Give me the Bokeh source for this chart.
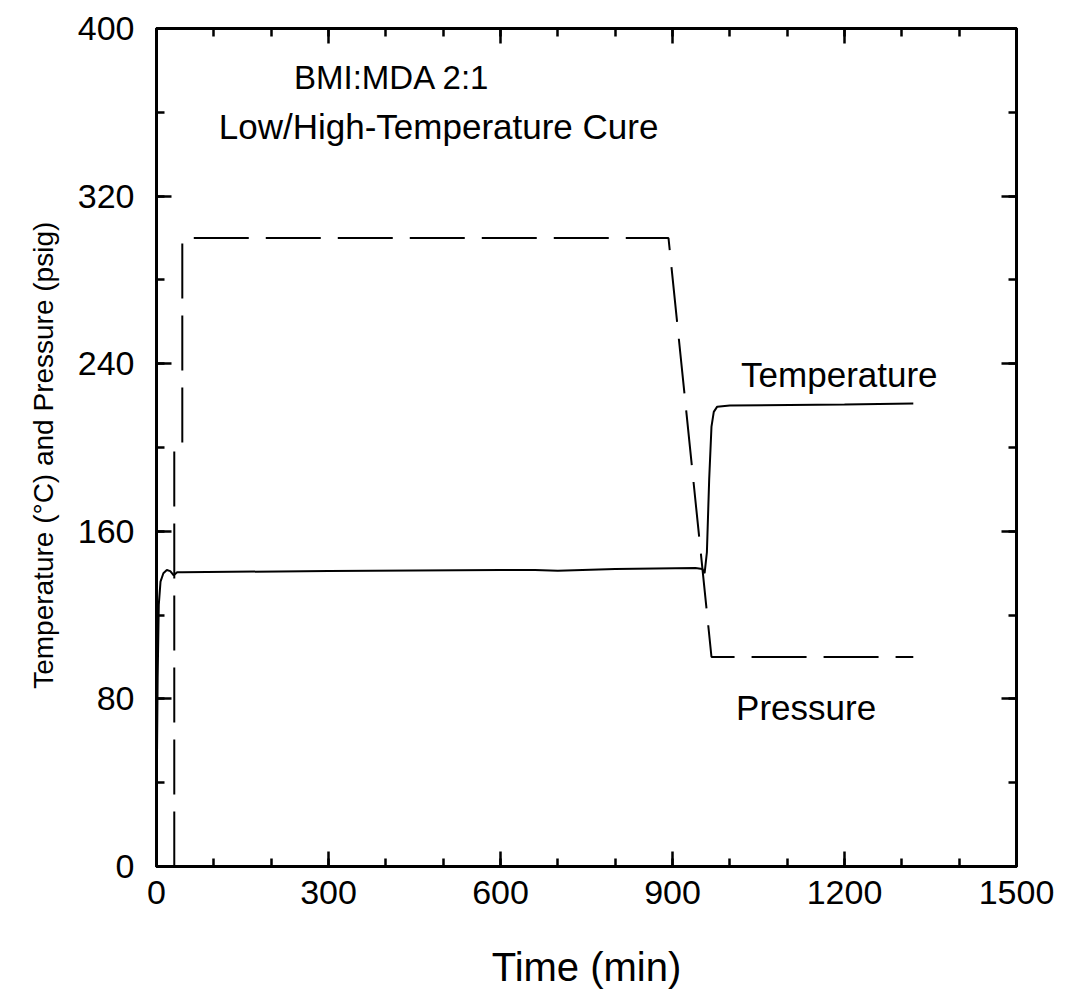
from bokeh.plotting import figure
from bokeh.models import LinearAxis, Range1d, FixedTicker, CustomJSTickFormatter, Label
from bokeh.embed import file_html
from bokeh.resources import INLINE

# ---- data ----
temp_time = [0, 2, 4, 7, 12, 18, 24, 30, 36, 45, 300, 600, 660, 700, 800, 940, 952, 956,
             960, 964, 968, 972, 978, 1000, 1200, 1320]
temp_val = [25, 90, 125, 136, 140, 141.5, 141, 139, 140.5, 140.5, 141, 141.5, 141.5, 141.2,
            142, 142.5, 142, 140, 150, 185, 210, 217, 219.5, 220, 220.5, 221]

pres_time = [31, 31, 45, 45, 893, 968, 1320]
pres_val = [0, 200, 200, 300, 300, 100, 100]

x_major = [0, 300, 600, 900, 1200, 1500]
x_minor = list(range(0, 1501, 100))
y_major = [0, 80, 160, 240, 320, 400]
y_minor = list(range(0, 401, 40))

FONT = "Liberation Sans"

p = figure(width=1065, height=1006, x_range=Range1d(0, 1500), y_range=Range1d(0, 400),
           output_backend="svg", toolbar_location=None,
           min_border_left=156, min_border_right=49, min_border_top=28, min_border_bottom=140)
p.grid.visible = False
p.outline_line_color = "black"
p.outline_line_width = 3
p.background_fill_color = "white"
p.border_fill_color = "white"


def style_axis(ax, major, minor):
    ax.ticker = FixedTicker(ticks=major, minor_ticks=minor)
    ax.axis_line_width = 3
    ax.axis_line_color = "black"
    ax.major_tick_in = 15
    ax.major_tick_out = 0
    ax.minor_tick_in = 8
    ax.minor_tick_out = 0
    ax.major_tick_line_width = 2.5
    ax.minor_tick_line_width = 2.5
    ax.major_tick_line_color = "black"
    ax.minor_tick_line_color = "black"
    ax.major_label_text_font = FONT
    ax.major_label_text_font_size = "34px"
    ax.major_label_text_color = "black"


style_axis(p.xaxis[0], x_major, x_minor)
style_axis(p.yaxis[0], y_major, y_minor)
p.xaxis.major_label_standoff = 14
p.yaxis.major_label_standoff = 22

p.xaxis.axis_label = "Time (min)"
p.xaxis.axis_label_text_font = FONT
p.xaxis.axis_label_text_font_size = "40px"
p.xaxis.axis_label_text_font_style = "normal"
p.xaxis.axis_label_text_color = "black"
p.xaxis.axis_label_standoff = 38

p.yaxis.axis_label = "Temperature (°C)  and  Pressure (psig)"
p.yaxis.axis_label_text_font = FONT
p.yaxis.axis_label_text_font_size = "28px"
p.yaxis.axis_label_text_font_style = "normal"
p.yaxis.axis_label_text_color = "black"
p.yaxis.axis_label_standoff = 16

blank = CustomJSTickFormatter(code="return ''")
for loc, major, minor in (("right", y_major, y_minor), ("above", x_major, x_minor)):
    ax = LinearAxis(formatter=blank)
    style_axis(ax, major, minor)
    ax.major_label_standoff = 0
    ax.major_label_text_font_size = "1px"
    p.add_layout(ax, loc)

p.line(temp_time, temp_val, line_color="black", line_width=2)
p.line(pres_time, pres_val, line_color="black", line_width=2, line_dash="55 17")

for x, y, txt, size in ((419, 376.7, "BMI:MDA  2:1", "33px"),
                        (492, 353, "Low/High-Temperature Cure", "35px"),
                        (1191, 235, "Temperature", "35px"),
                        (1133, 76, "Pressure", "35px")):
    p.add_layout(Label(x=x, y=y, text=txt, text_align="center", text_baseline="middle",
                       text_font=FONT, text_font_size=size, text_color="black"))

open("out.html", "w").write(file_html(p, INLINE))
